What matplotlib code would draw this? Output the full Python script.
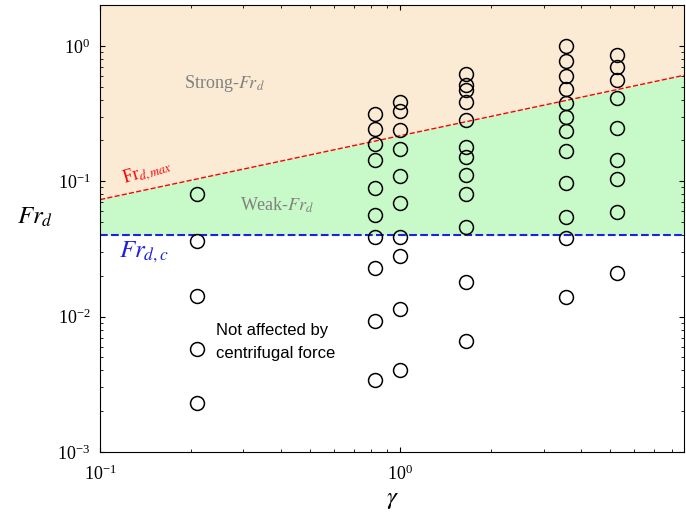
import numpy as np
import matplotlib.pyplot as plt

plt.rcParams['font.family'] = ['Liberation Serif', 'DejaVu Serif']
plt.rcParams['mathtext.fontset'] = 'stix'

# measured data, one column of points per gamma
gammas = [0.21, 0.826, 1.0, 1.66, 3.56, 5.26]
fr_cols = [
    [0.080, 0.036, 0.0141, 0.0058, 0.0023],
    [0.313, 0.243, 0.188, 0.143, 0.089, 0.056, 0.039, 0.023, 0.0093, 0.0034],
    [0.385, 0.33, 0.239, 0.173, 0.109, 0.069, 0.039, 0.0278, 0.0113, 0.0040],
    [0.62, 0.51, 0.47, 0.385, 0.283, 0.18, 0.15, 0.111, 0.080, 0.0456, 0.018, 0.0066],
    [0.99, 0.774, 0.6, 0.48, 0.378, 0.298, 0.235, 0.167, 0.097, 0.054, 0.038, 0.0139],
    [0.857, 0.699, 0.56, 0.412, 0.247, 0.143, 0.103, 0.059, 0.021],
]
fr_c = 0.04
fr_max_coef = 0.217
fr_max_exp = 0.472

xmin, xmax = 0.1, 8.8
ymin, ymax = 1e-3, 2.0

fig = plt.figure(figsize=(6.86, 5.13), dpi=100)
ax = fig.add_axes([0.146, 0.119, 0.851, 0.871])

xs = np.logspace(np.log10(xmin), np.log10(xmax), 200)
frmax = fr_max_coef * xs ** fr_max_exp
ax.fill_between(xs, frmax, ymax, color='#fbebd4', lw=0)
ax.fill_between(xs, fr_c, frmax, color='#c8f9c8', lw=0)
ax.plot(xs, frmax, 'r--', lw=1)
ax.axhline(fr_c, color='#1f1fe0', ls='--', lw=1.5)

for g, col in zip(gammas, fr_cols):
    ax.plot([g] * len(col), col, 'o', mfc='none', mec='k', ms=10, mew=1.1)

ax.set_xscale('log')
ax.set_yscale('log')
ax.set_xlim(xmin, xmax)
ax.set_ylim(ymin, ymax)
ax.tick_params(which='both', direction='in', top=True, right=True, labelsize=13)
ax.tick_params(axis='x', which='both', pad=9)
ax.tick_params(axis='y', which='both', pad=7)
ax.set_xlabel(r'$\gamma$', fontsize=18)
ax.set_ylabel(r'$Fr_d$', fontsize=18, rotation=0, labelpad=16)

ax.text(0.26, 0.53, r'Strong-$Fr_d$', color='gray', fontsize=13, ha='center', va='center')
ax.text(0.39, 0.066, r'Weak-$Fr_d$', color='gray', fontsize=13, ha='center', va='center')
ax.text(0.143, 0.118, r'Fr$_{d,max}$', color='red', fontsize=13, ha='center', va='center', rotation=17)
ax.text(0.14, 0.03, r'$Fr_{d,c}$', color='#1f1fe0', fontsize=18, ha='center', va='center')
ax.text(0.243, 0.0065, 'Not affected by\ncentrifugal force', family=['Liberation Sans', 'DejaVu Sans'],
        fontsize=12, ha='left', va='center', linespacing=1.6)

fig.savefig('out.png')
